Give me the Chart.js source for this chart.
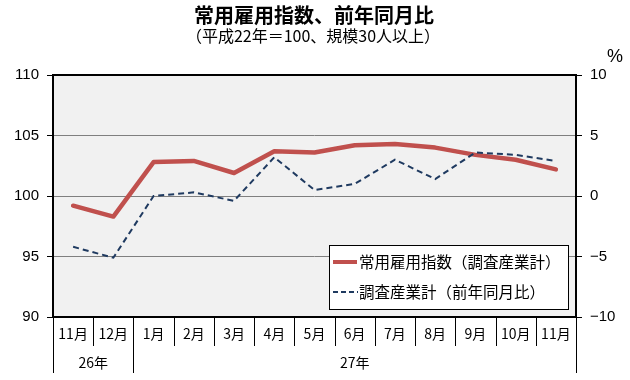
<!DOCTYPE html>
<html>
<head>
<meta charset="utf-8">
<script src="https://cdn.jsdelivr.net/npm/chart.js@4/dist/chart.umd.min.js"></script>
<style>
html,body{margin:0;padding:0;background:#fff;}
canvas{display:block;}
</style>
</head>
<body>
<canvas id="c" width="630" height="380"></canvas>
<script>
const months = ['11月','12月','1月','2月','3月','4月','5月','6月','7月','8月','9月','10月','11月'];
const years = ['26年','27年'];
const yearSpans = [2, 11];
const indexValues = [99.2, 98.3, 102.8, 102.9, 101.9, 103.7, 103.6, 104.2, 104.3, 104.0, 103.4, 103.0, 102.2];
const yoyValues = [-4.2, -5.1, 0.0, 0.3, -0.4, 3.2, 0.5, 1.0, 3.0, 1.4, 3.6, 3.4, 2.9];
const leftTicks = [90, 95, 100, 105, 110];
const rightTicks = [-10, -5, 0, 5, 10];
const titleText = '常用雇用指数、前年同月比';
const subtitleText = '（平成22年＝100、規模30人以上）';
const unitText = '%';
const seriesNames = ['常用雇用指数（調査産業計）', '調査産業計（前年同月比）'];

const JP = '"Noto Sans CJK JP", sans-serif';
const RED = '#c0504d';
const BLUE = '#1f3a60';

const decor = {
  id: 'decor',
  beforeDraw(chart) {
    const {ctx, chartArea: a} = chart;
    ctx.save();
    ctx.fillStyle = '#f1f1f1';
    ctx.fillRect(a.left, a.top, a.right - a.left, a.bottom - a.top);
    ctx.restore();
  },
  afterDraw(chart) {
    const {ctx, chartArea: a} = chart;
    const xs = chart.scales.x;
    ctx.save();
    ctx.strokeStyle = '#000';
    ctx.lineWidth = 2;
    ctx.strokeRect(a.left, a.top, a.right - a.left, a.bottom - a.top);
    const bounds = [];
    for (let i = 0; i <= months.length; i++) {
      if (i === 0) bounds.push(a.left);
      else if (i === months.length) bounds.push(a.right);
      else bounds.push((xs.getPixelForValue(i - 1) + xs.getPixelForValue(i)) / 2);
    }
    ctx.lineWidth = 1;
    const yearBounds = [0];
    yearSpans.reduce((s, n) => { yearBounds.push(s + n); return s + n; }, 0);
    bounds.forEach((bx, i) => {
      const isYear = yearBounds.includes(i);
      const xx = Math.round(bx) + 0.5;
      ctx.beginPath();
      ctx.moveTo(xx, a.bottom);
      ctx.lineTo(xx, isYear ? 373 : 346);
      ctx.stroke();
    });
    ctx.fillStyle = '#000';
    ctx.font = '14px ' + JP;
    ctx.textAlign = 'center';
    ctx.textBaseline = 'middle';
    months.forEach((m, i) => {
      ctx.fillText(m, xs.getPixelForValue(i), 334);
    });
    years.forEach((y, k) => {
      const x0 = bounds[yearBounds[k]], x1 = bounds[yearBounds[k + 1]];
      ctx.fillText(y, (x0 + x1) / 2, 363);
    });
    ctx.font = 'bold 20px ' + JP;
    ctx.fillText(titleText, 314, 15);
    ctx.font = '16px ' + JP;
    ctx.fillText(subtitleText, 313, 36);
    ctx.font = '18px "Liberation Sans", Arial, sans-serif';
    ctx.fillText(unitText, 615, 57);
    ctx.fillStyle = '#fff';
    ctx.fillRect(329, 245, 239, 64);
    ctx.strokeStyle = '#000';
    ctx.lineWidth = 1;
    ctx.strokeRect(329.5, 245.5, 239, 64);
    ctx.lineWidth = 4;
    ctx.strokeStyle = RED;
    ctx.beginPath(); ctx.moveTo(333, 262); ctx.lineTo(357, 262); ctx.stroke();
    ctx.lineWidth = 2;
    ctx.strokeStyle = BLUE;
    ctx.setLineDash([5, 3]);
    ctx.beginPath(); ctx.moveTo(333, 292); ctx.lineTo(358, 292); ctx.stroke();
    ctx.setLineDash([]);
    ctx.fillStyle = '#000';
    ctx.textAlign = 'left';
    ctx.font = '15.5px ' + JP;
    ctx.fillText(seriesNames[0], 359, 262);
    ctx.fillText(seriesNames[1], 359, 292);
    ctx.restore();
  }
};

const minusFmt = v => String(v).replace('-', '−');

new Chart(document.getElementById('c'), {
  type: 'line',
  data: {
    labels: months,
    datasets: [
      {label: seriesNames[0], data: indexValues, yAxisID: 'yL', borderColor: RED, borderWidth: 4.5,
       pointRadius: 0, tension: 0, borderJoinStyle: 'round', borderCapStyle: 'round', order: 2},
      {label: seriesNames[1], data: yoyValues, yAxisID: 'yR', borderColor: BLUE, borderWidth: 2,
       borderDash: [6, 4], pointRadius: 0, tension: 0, order: 1}
    ]
  },
  options: {
    responsive: false,
    animation: false,
    layout: {padding: {top: 75, left: 0, right: 0, bottom: 0}},
    plugins: {legend: {display: false}, title: {display: false}, tooltip: {enabled: false}},
    scales: {
      x: {
        offset: true,
        grid: {display: false},
        border: {display: false},
        ticks: {display: false},
        afterFit(s) { s.height = 63; }
      },
      yL: {
        position: 'left',
        min: leftTicks[0], max: leftTicks[leftTicks.length - 1],
        afterBuildTicks(s) { s.ticks = leftTicks.map(v => ({value: v})); },
        ticks: {color: '#000', font: {family: '"Liberation Sans", Arial, sans-serif', size: 15}, padding: 8},
        grid: {
          color: c => (c.tick && (c.tick.value === leftTicks[0] || c.tick.value === leftTicks[leftTicks.length - 1])) ? 'rgba(0,0,0,0)' : '#7f7f7f',
          tickColor: '#000', tickLength: 6, lineWidth: 1
        },
        border: {display: false},
        afterFit(s) { s.width = 53; }
      },
      yR: {
        position: 'right',
        min: rightTicks[0], max: rightTicks[rightTicks.length - 1],
        afterBuildTicks(s) { s.ticks = rightTicks.map(v => ({value: v})); },
        ticks: {color: '#000', font: {family: '"Liberation Sans", Arial, sans-serif', size: 15}, padding: 8,
                callback: minusFmt},
        grid: {drawOnChartArea: false, tickColor: '#000', tickLength: 6},
        border: {display: false},
        afterFit(s) { s.width = 54; }
      }
    }
  },
  plugins: [decor]
});
</script>
</body>
</html>
